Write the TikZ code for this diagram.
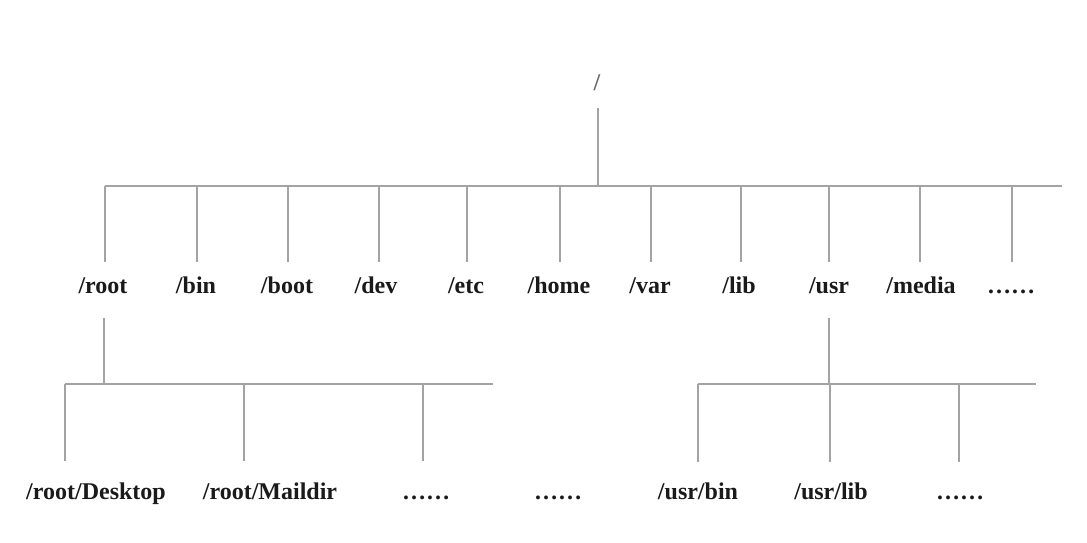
\documentclass[tikz,border=0pt]{standalone}
\usepackage{fontspec}
\setmainfont{Liberation Serif}
\definecolor{linegray}{HTML}{A3A3A3}
\definecolor{textdark}{HTML}{1A1A1A}
\definecolor{slashgray}{HTML}{6A6A6A}
\begin{document}
\begin{tikzpicture}[x=1pt,y=-1pt,
  lbl/.style={anchor=base,inner sep=0pt,text=textdark,
    font=\fontsize{24}{28}\selectfont\bfseries},
  link/.style={draw=linegray,line width=1.4pt}]
\useasboundingbox (0,0) rectangle (1087,542);
\fill[white] (0,0) rectangle (1087,542);
% root
\node[anchor=base,inner sep=0pt,text=slashgray,font=\fontsize{24}{28}\selectfont\bfseries] (top) at (597,90) {/};
% level 1 labels
\node[lbl] (root)  at (103,293) {/root};
\node[lbl] (bin)   at (196,293) {/bin};
\node[lbl] (boot)  at (287,293) {/boot};
\node[lbl] (dev)   at (376,293) {/dev};
\node[lbl] (etc)   at (466,293) {/etc};
\node[lbl] (home)  at (559,293) {/home};
\node[lbl] (var)   at (650,293) {/var};
\node[lbl] (lib)   at (739,293) {/lib};
\node[lbl] (usr)   at (829,293) {/usr};
\node[lbl] (media) at (921,293) {/media};
\node[lbl] (more)  at (1011,293) {……};
% level 2 labels
\node[lbl] (desk)  at (96,499) {/root/Desktop};
\node[lbl] (mail)  at (270,499) {/root/Maildir};
\node[lbl] (rmore) at (426,499) {……};
\node[lbl] (mid)   at (558,499) {……};
\node[lbl] (ubin)  at (698,499) {/usr/bin};
\node[lbl] (ulib)  at (831,499) {/usr/lib};
\node[lbl] (umore) at (960,499) {……};
% bus coordinates
\coordinate (topjoin) at (598,186);
\coordinate (busL) at (105,186);
\coordinate (busR) at (1062,186);
\foreach \n/\x in {root/105,bin/197,boot/288,dev/379,etc/467,home/560,var/651,lib/741,usr/829,media/920,more/1012}{
  \coordinate (\n-b) at (\x,186);
  \coordinate (\n-e) at (\x,262);
  \draw[link] (\n-b) -- (\n-e);
}
\coordinate (topstart) at (598,108);
\draw[link] (topstart) -- (topjoin);
\draw[link] (busL) -- (busR);
% root subtree
\coordinate (rootdown) at (104,318);
\coordinate (rootjoin) at (104,384);
\draw[link] (rootdown) -- (rootjoin);
\coordinate (rbusL) at (65,384);
\coordinate (rbusR) at (493,384);
\draw[link] (rbusL) -- (rbusR);
\foreach \n/\x in {desk/65,mail/244,rmore/423}{
  \coordinate (\n-b) at (\x,384);
  \coordinate (\n-e) at (\x,461);
  \draw[link] (\n-b) -- (\n-e);
}
% usr subtree
\coordinate (usrdown) at (829,318);
\coordinate (usrjoin) at (829,384);
\draw[link] (usrdown) -- (usrjoin);
\coordinate (ubusL) at (698,384);
\coordinate (ubusR) at (1036,384);
\draw[link] (ubusL) -- (ubusR);
\foreach \n/\x in {ubin/698,ulib/830,umore/959}{
  \coordinate (\n-b) at (\x,384);
  \coordinate (\n-e) at (\x,462);
  \draw[link] (\n-b) -- (\n-e);
}
\end{tikzpicture}
\end{document}
